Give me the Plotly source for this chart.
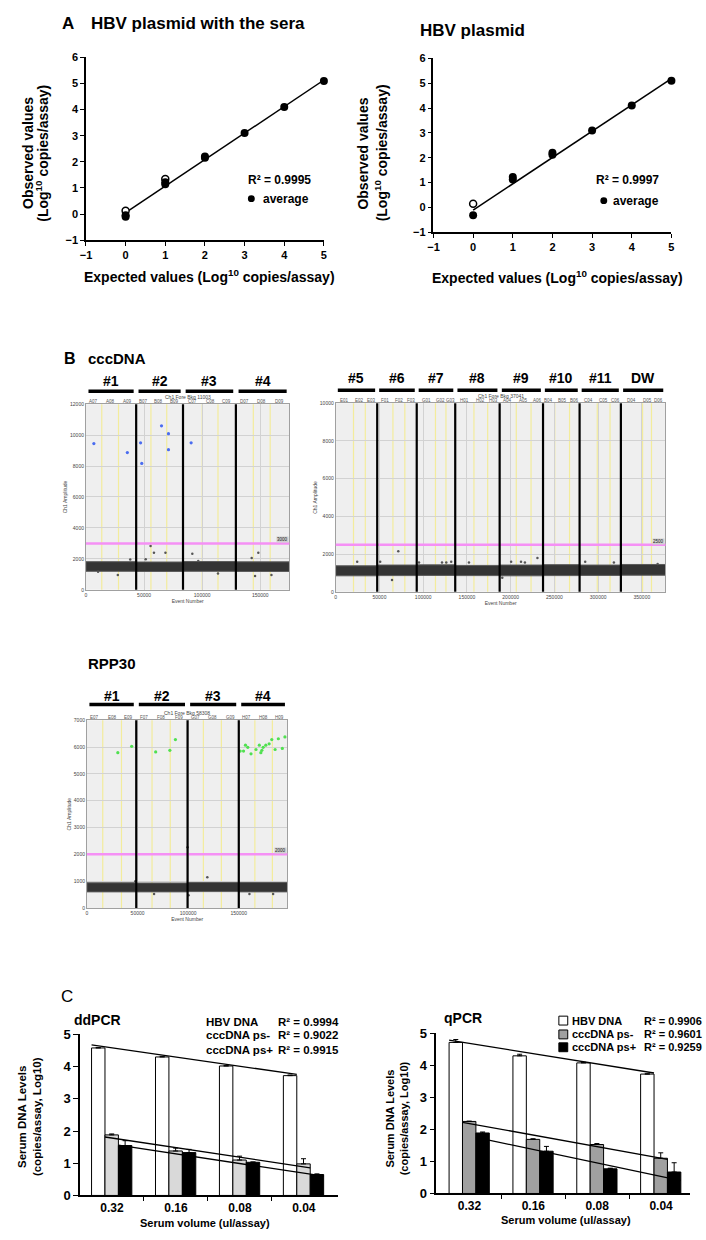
import numpy as np
import plotly.graph_objects as go

W, H = 706, 1240
FONT = "Liberation Sans, Arial, sans-serif"


def fx(p):
    return p / W


def fy(p):
    return 1 - p / H


# ---------------- Panel A data ----------------
a_expected = [0, 1, 2, 3, 4, 5]
a_ticks_x = [-1, 0, 1, 2, 3, 4, 5]
a_ticks_y = [-1, 0, 1, 2, 3, 4, 5, 6]

a1_average = [-0.05, 1.14, 2.16, 3.1, 4.1, 5.1]
a1_rep_x = [0, 1, 2]
a1_rep_y = [-0.1, 1.22, 2.2]
a1_open_x = [0, 1]
a1_open_y = [0.13, 1.34]
a1_r2 = "R² = 0.9995"

a2_average = [-0.32, 1.12, 2.12, 3.1, 4.1, 5.1]
a2_rep_x = [1, 2]
a2_rep_y = [1.22, 2.2]
a2_open_x = [0]
a2_open_y = [0.15]
a2_r2 = "R² = 0.9997"

# ---------------- Panel B data (ddPCR droplet plots) ----------------
ccc1_heads = ["#1", "#2", "#3", "#4"]
ccc1_wells = ["A07", "A08", "A09", "B07", "B08", "B09", "C07", "C08", "C09", "D07", "D08", "D09"]
ccc1_xmax = 175000
ccc1_ymax = 12000
ccc1_seps = [43200, 83500, 129000]
ccc1_yellow = [13600, 28000, 55900, 69500, 100000, 113600, 144000, 158500]
ccc1_band_lo = [1200, 1190, 1200, 1190]
ccc1_band_hi = [1820, 1800, 1830, 1810]
ccc1_thr = 3000
ccc1_pos_x = [6800, 35600, 47000, 48000, 65000, 71000, 71000, 90500]
ccc1_pos_y = [9450, 8870, 9500, 8170, 10600, 10090, 9060, 9500]
ccc1_neg_x = [38100, 55600, 58500, 68400, 51400, 91500, 96600, 142600, 148300, 27400, 145500, 159600, 113600, 10400]
ccc1_neg_y = [1960, 2830, 2400, 2400, 1980, 2340, 1870, 2060, 2400, 960, 900, 960, 1060, 1170]

ccc2_heads = ["#5", "#6", "#7", "#8", "#9", "#10", "#11", "DW"]
ccc2_wells = ["E01", "E02", "E03", "F01", "F02", "F03", "G01", "G02", "G03", "H01", "H02", "H03",
              "A04", "A05", "A06", "B04", "B05", "B06", "C04", "C05", "C06", "D04", "D05", "D06"]
ccc2_xmax = 377000
ccc2_ymax = 10000
ccc2_seps = [47400, 92600, 136600, 187400, 237000, 278800, 326000]
ccc2_yellow = [20300, 33800, 65400, 79000, 114000, 126000, 158000, 173700,
               206400, 223300, 250400, 267300, 299000, 313600, 350800, 361000]
ccc2_band_lo = [850, 860, 870, 860, 850, 860, 870, 880]
ccc2_band_hi = [1380, 1420, 1430, 1400, 1420, 1440, 1420, 1450]
ccc2_thr = 2500
ccc2_neg_x = [24500, 50800, 71500, 64300, 95200, 121500, 126400, 132000, 152300, 190400,
              200500, 211800, 216300, 230600, 285200, 318000, 368000]
ccc2_neg_y = [1590, 1590, 2150, 630, 1550, 1550, 1550, 1590, 1550, 750,
              1590, 1590, 1550, 1800, 1590, 1550, 1470]

rpp_heads = ["#1", "#2", "#3", "#4"]
rpp_wells = ["E07", "E08", "E09", "F07", "F08", "F09", "G07", "G08", "G09", "H07", "H08", "H09"]
rpp_xmax = 198000
rpp_ymax = 7000
rpp_seps = [48700, 99400, 150000]
rpp_yellow = [15600, 34100, 64300, 82300, 115000, 132800, 165900, 183200]
rpp_band_lo = [600, 600, 610, 600]
rpp_band_hi = [940, 930, 950, 950]
rpp_thr = 2000
rpp_pos_x = [30500, 44200, 67900, 81900, 87400, 151400, 154700, 156600, 158900, 162100, 167000,
             170300, 171800, 172800, 174100, 176700, 180000, 182600, 185900, 189100, 193000, 195600]
rpp_pos_y = [5790, 6030, 5820, 5880, 6280, 5850, 5850, 6070, 5990, 5750, 5910,
             6070, 5790, 5880, 5990, 6070, 6120, 6280, 5910, 6310, 5950, 6380]
rpp_neg_x = [118900, 99400, 47800, 100400, 66300, 160500, 183900]
rpp_neg_y = [1150, 2260, 1000, 470, 520, 520, 520]

# ---------------- Panel C data ----------------
c_categories = ["0.32", "0.16", "0.08", "0.04"]
c_index = [0, 1, 2, 3]
c_series_names = ["HBV DNA", "cccDNA ps-", "cccDNA ps+"]

dd_hbv = [4.58, 4.3, 4.02, 3.72]
dd_hbv_err = [0.01, 0.02, 0.01, 0.02]
dd_ps_minus = [1.88, 1.38, 1.1, 0.98]
dd_ps_minus_err = [0.03, 0.09, 0.12, 0.16]
dd_ps_plus = [1.55, 1.33, 1.03, 0.65]
dd_ps_plus_err = [0.15, 0.1, 0.01, 0.02]
dd_r2 = ["R² = 0.9994", "R² = 0.9022", "R² = 0.9915"]

q_hbv = [4.72, 4.3, 4.08, 3.73]
q_hbv_err = [0.09, 0.05, 0.02, 0.01]
q_ps_minus = [2.25, 1.69, 1.53, 1.1]
q_ps_minus_err = [0.01, 0.02, 0.03, 0.17]
q_ps_plus = [1.89, 1.32, 0.77, 0.67]
q_ps_plus_err = [0.03, 0.15, 0.02, 0.29]
q_r2 = ["R² = 0.9906", "R² = 0.9601", "R² = 0.9259"]

# ---------------- Figure ----------------
fig = go.Figure()
shapes = []
annots = []
L = dict(width=W, height=H, margin=dict(l=0, r=0, t=0, b=0, pad=0),
         paper_bgcolor="white", plot_bgcolor="white", showlegend=False,
         barmode="overlay", font=dict(family=FONT, color="black", size=11))


def axnames(n):
    s = "" if n == 1 else str(n)
    return "x" + s, "y" + s, "xaxis" + s, "yaxis" + s


def txt(x, y, text, size=12, bold=True, xanchor="left", yanchor="middle", angle=0,
        color="black", xref="paper", yref="paper", **kw):
    xx = fx(x) if xref == "paper" else x
    yy = fy(y) if yref == "paper" else y
    annots.append(dict(x=xx, y=yy, xref=xref, yref=yref, text=text, showarrow=False,
                       xanchor=xanchor, yanchor=yanchor, textangle=angle, borderpad=0,
                       font=dict(family=FONT, size=size, color=color,
                                 weight="bold" if bold else "normal"), **kw))


# ---------- Panel A ----------
def panel_a(n, xdom, ydom, avg, rep_x, rep_y, open_x, open_y):
    xa, ya, xk, yk = axnames(n)
    common = dict(ticks="outside", ticklen=4, tickwidth=1.2, tickcolor="black", showline=True,
                  linecolor="black", linewidth=1.5, showgrid=False, zeroline=False,
                  tickfont=dict(family=FONT, size=11, weight="bold"), tickmode="array")
    L[xk] = dict(domain=[fx(xdom[0]), fx(xdom[1])], range=[-1, 5], anchor=ya,
                 tickvals=a_ticks_x, **common)
    L[yk] = dict(domain=[fy(ydom[1]), fy(ydom[0])], range=[-1, 6], anchor=xa,
                 tickvals=a_ticks_y, **common)
    coef = np.polyfit(a_expected, avg, 1)
    lx = [0, 5]
    fig.add_trace(go.Scatter(x=lx, y=list(np.polyval(coef, lx)), mode="lines",
                             line=dict(color="black", width=1.5), xaxis=xa, yaxis=ya,
                             cliponaxis=False))
    fig.add_trace(go.Scatter(x=open_x, y=open_y, mode="markers", xaxis=xa, yaxis=ya,
                             marker=dict(color="white", size=7, line=dict(color="black", width=1.5)),
                             cliponaxis=False))
    fig.add_trace(go.Scatter(x=rep_x, y=rep_y, mode="markers", xaxis=xa, yaxis=ya,
                             marker=dict(color="black", size=8), cliponaxis=False))
    fig.add_trace(go.Scatter(x=a_expected, y=avg, mode="markers", xaxis=xa, yaxis=ya,
                             marker=dict(color="black", size=8), cliponaxis=False))


panel_a(1, (81, 322), (51, 236), a1_average, a1_rep_x, a1_rep_y, a1_open_x, a1_open_y)
panel_a(2, (433, 674), (52, 228), a2_average, a2_rep_x, a2_rep_y, a2_open_x, a2_open_y)

txt(56, 17, "A", size=17)
txt(85, 17, "HBV plasmid with the sera", size=17)
txt(418, 24, "HBV plasmid", size=17)

txt(22, 148, "Observed values", size=14, xanchor="center", angle=-90)
txt(37, 148, "(Log<sup>10</sup> copies/assay)", size=14, xanchor="center", angle=-90)
txt(362, 148, "Observed values", size=14, xanchor="center", angle=-90)
txt(380, 148, "(Log<sup>10</sup> copies/assay)", size=14, xanchor="center", angle=-90)
txt(206, 272, "Expected values (Log<sup>10</sup> copies/assay)", size=14, xanchor="center")
txt(559, 273, "Expected values (Log<sup>10</sup> copies/assay)", size=14, xanchor="center")

txt(244, 175, a1_r2, size=12)
txt(259, 194, "average", size=12)
txt(597, 175, a2_r2, size=12)
txt(614, 196, "average", size=12)
for cx, cy in [(248.5, 194), (605.5, 196)]:
    shapes.append(dict(type="circle", xref="paper", yref="paper", x0=fx(cx - 3.5), x1=fx(cx + 3.5),
                       y0=fy(cy + 3.5), y1=fy(cy - 3.5), fillcolor="black", line=dict(width=0)))


# ---------- Panel B ----------
def panel_b(n, xdom, ydom, xmax, ymax, ydtick, xdtick, seps, yellow, lo, hi, thr,
            pos_x, pos_y, pos_col, neg_x, neg_y, heads, head_txt_y, head_bar_y, wells, title):
    xa, ya, xk, yk = axnames(n)
    small = dict(family=FONT, size=5, color="#444")
    common = dict(showgrid=True, gridcolor="#d2d2d2", gridwidth=0.8, zeroline=False, showline=True,
                  mirror=True, linecolor="#a0a0a0", linewidth=1, ticks="", tickfont=small,
                  tickformat="d", tick0=0)
    L[xk] = dict(domain=[fx(xdom[0]), fx(xdom[1])], range=[0, xmax], anchor=ya, dtick=xdtick,
                 title=dict(text="Event Number", font=small, standoff=1), **common)
    L[yk] = dict(domain=[fy(ydom[1]), fy(ydom[0])], range=[0, ymax], anchor=xa, dtick=ydtick,
                 title=dict(text="Ch1 Amplitude", font=small, standoff=2), **common)
    bounds = [0] + seps + [xmax]
    shapes.append(dict(type="rect", xref=f"{xa} domain", yref=f"{ya} domain", x0=0, x1=1, y0=0, y1=1,
                       fillcolor="#efefef", line=dict(width=0), layer="below"))
    for v in yellow:
        shapes.append(dict(type="line", xref=xa, yref=f"{ya} domain", x0=v, x1=v, y0=0, y1=1,
                           line=dict(color="#f3ec9c", width=1.2), layer="below"))
    # droplet band (negative droplets)
    bx, by = [], []
    for i in range(len(bounds) - 1):
        a, b = bounds[i], bounds[i + 1]
        bx += [a, b, b, a, a, None]
        by += [lo[i], lo[i], hi[i], hi[i], lo[i], None]
    fig.add_trace(go.Scatter(x=bx, y=by, mode="lines", fill="toself", fillcolor="#343434",
                             line=dict(color="#5a5a5a", width=1), xaxis=xa, yaxis=ya))
    fig.add_trace(go.Scatter(x=neg_x, y=neg_y, mode="markers", xaxis=xa, yaxis=ya,
                             marker=dict(color="#555555", size=2.5)))
    if pos_x:
        fig.add_trace(go.Scatter(x=pos_x, y=pos_y, mode="markers", xaxis=xa, yaxis=ya,
                                 marker=dict(color=pos_col, size=3.2)))
    shapes.append(dict(type="line", xref=f"{xa} domain", yref=ya, x0=0, x1=1, y0=thr, y1=thr,
                       line=dict(color="#f590f5", width=2.5), layer="above"))
    for v in seps:
        shapes.append(dict(type="line", xref=xa, yref=f"{ya} domain", x0=v, x1=v, y0=0, y1=1,
                           line=dict(color="black", width=2.2), layer="above"))
    for i, h in enumerate(heads):
        a, b = bounds[i], bounds[i + 1]
        pad = (b - a) * 0.05
        shapes.append(dict(type="line", xref=xa, yref="paper", x0=a + pad, x1=b - pad,
                           y0=fy(head_bar_y), y1=fy(head_bar_y), line=dict(color="black", width=3.5)))
        txt((a + b) / 2, head_txt_y, h, size=14, xanchor="center", xref=xa)
        edges = [a, yellow[2 * i], yellow[2 * i + 1], b]
        for k in range(3):
            txt((edges[k] + edges[k + 1]) / 2, ydom[0] - 2.5, wells[3 * i + k], size=4.5, bold=False,
                xanchor="center", color="#555", xref=xa)
    txt(xmax / 2, ydom[0] - 7.5, title, size=5, bold=False, xanchor="center", color="#444", xref=xa)
    annots.append(dict(x=xmax, y=thr, xref=xa, yref=ya, text=str(thr), showarrow=False,
                       xanchor="right", yanchor="bottom", bgcolor="#d0d0d0", borderpad=0,
                       font=dict(family=FONT, size=4.5, color="#222")))


panel_b(3, (81, 287), (402, 590), ccc1_xmax, ccc1_ymax, 2000, 50000, ccc1_seps, ccc1_yellow,
        ccc1_band_lo, ccc1_band_hi, ccc1_thr, ccc1_pos_x, ccc1_pos_y, "#4a6cf0",
        ccc1_neg_x, ccc1_neg_y, ccc1_heads, 379, 389, ccc1_wells, "Ch1 Fore Bkg 11003")
panel_b(4, (334, 668), (401, 592), ccc2_xmax, ccc2_ymax, 2000, 50000, ccc2_seps, ccc2_yellow,
        ccc2_band_lo, ccc2_band_hi, ccc2_thr, [], [], "#4a6cf0",
        ccc2_neg_x, ccc2_neg_y, ccc2_heads, 376, 388, ccc2_wells, "Ch1 Fore Bkg 37041")
panel_b(5, (82, 285), (722, 912), rpp_xmax, rpp_ymax, 1000, 50000, rpp_seps, rpp_yellow,
        rpp_band_lo, rpp_band_hi, rpp_thr, rpp_pos_x, rpp_pos_y, "#50e050",
        rpp_neg_x, rpp_neg_y, rpp_heads, 697, 706, rpp_wells, "Ch1 Fore Bkg 58308")

txt(58, 356, "B", size=16)
txt(82, 356, "cccDNA", size=15)
txt(82, 665, "RPP30", size=15)


# ---------- Panel C ----------
BAR_W = 0.21
BAR_OFF = [-0.32, -0.11, 0.10]


def panel_c(n, xdom, ydom, xr, series, colors):
    xa, ya, xk, yk = axnames(n)
    L[xk] = dict(domain=[fx(xdom[0]), fx(xdom[1])], range=xr, anchor=ya, tickmode="array",
                 tickvals=c_index, ticktext=c_categories, ticks="", showline=True,
                 linecolor="black", linewidth=1.5, showgrid=False, zeroline=False,
                 tickfont=dict(family=FONT, size=12, weight="bold"),
                 minor=dict(tickmode="array", tickvals=[0.5, 1.5, 2.5], ticks="outside", ticklen=4,
                            tickcolor="black", tickwidth=1.2, showgrid=False))
    L[yk] = dict(domain=[fy(ydom[1]), fy(ydom[0])], range=[0, 5], anchor=xa, dtick=1, tick0=0,
                 ticks="outside", ticklen=5, tickwidth=1.2, tickcolor="black", showline=True,
                 linecolor="black", linewidth=1.5, showgrid=False, zeroline=False,
                 tickfont=dict(family=FONT, size=13, weight="bold"))
    for (vals, errs), col, off in zip(series, colors, BAR_OFF):
        fig.add_trace(go.Bar(x=c_index, y=vals, width=BAR_W, offset=off, xaxis=xa, yaxis=ya,
                             marker=dict(color=col, line=dict(color="black", width=1)),
                             error_y=dict(type="data", symmetric=False, array=errs,
                                          arrayminus=[0, 0, 0, 0], color="black",
                                          thickness=1, width=2.5)))
    for (vals, errs), off in zip(series, BAR_OFF):
        coef = np.polyfit(c_index, vals, 1)
        lx = [0 + off, 3 + off + BAR_W]
        fig.add_trace(go.Scatter(x=lx, y=list(np.polyval(coef, lx)), mode="lines", xaxis=xa,
                                 yaxis=ya, line=dict(color="black", width=1.3), cliponaxis=False))


panel_c(6, (75, 336), (1040, 1203), [-0.50, 3.53],
        [(dd_hbv, dd_hbv_err), (dd_ps_minus, dd_ps_minus_err), (dd_ps_plus, dd_ps_plus_err)],
        ["white", "#d9d9d9", "black"])
panel_c(7, (436, 693), (1039, 1201), [-0.518, 3.456],
        [(q_hbv, q_hbv_err), (q_ps_minus, q_ps_minus_err), (q_ps_plus, q_ps_plus_err)],
        ["white", "#a0a0a0", "black"])

txt(55, 1002, "C", size=17, bold=False)
txt(68, 1025, "ddPCR", size=14)
txt(443, 1023, "qPCR", size=14)
for i, (nm, r2) in enumerate(zip(c_series_names, dd_r2)):
    y = [1027, 1041, 1056][i]
    txt(202, y, nm, size=11.5)
    txt(275, y, r2, size=11.5)
q_colors = ["white", "#a0a0a0", "black"]
for i, (nm, r2) in enumerate(zip(c_series_names, q_r2)):
    y = [1026, 1040, 1053][i]
    shapes.append(dict(type="rect", xref="paper", yref="paper", x0=fx(560), x1=fx(569),
                       y0=fy(y + 4.5), y1=fy(y - 4.5), fillcolor=q_colors[i],
                       line=dict(color="black", width=1)))
    txt(572, y, nm, size=11)
    txt(645, y, r2, size=11)

txt(24, 1123, "Serum DNA Levels<br>(copies/assay, Log10)", size=11.5, xanchor="center", angle=-90)
txt(396, 1125, "Serum DNA Levels<br>(copies/assay, Log10)", size=11, xanchor="center", angle=-90)
txt(202, 1231, "Serum volume (ul/assay)", size=11, xanchor="center")
txt(567, 1228, "Serum volume (ul/assay)", size=11, xanchor="center")

L["shapes"] = shapes
L["annotations"] = annots
fig.update_layout(**L)
fig.write_html("out.html")
